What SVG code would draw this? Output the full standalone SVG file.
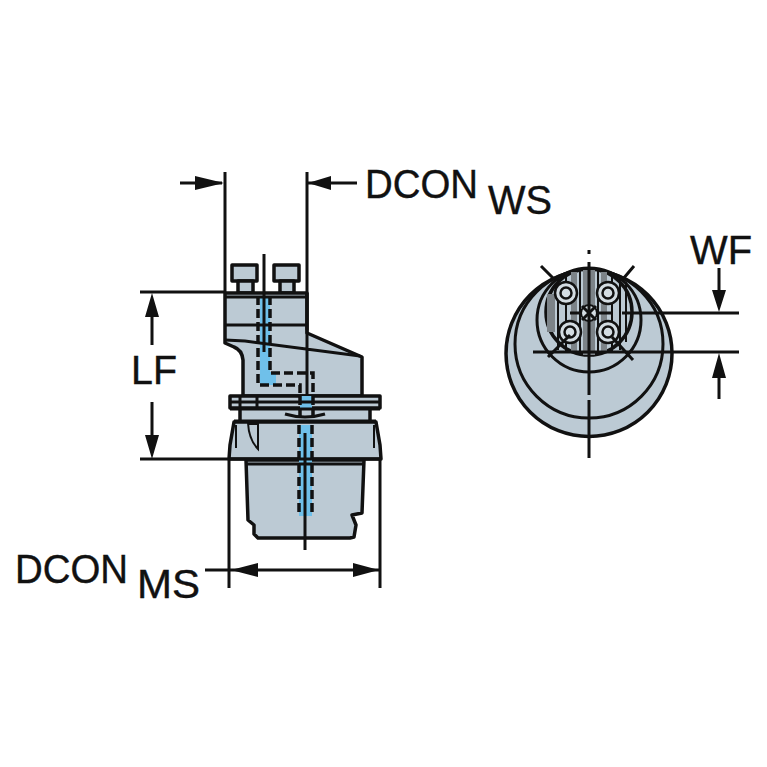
<svg xmlns="http://www.w3.org/2000/svg" width="767" height="767" viewBox="0 0 767 767">
<style>
.f{fill:#bccad4;stroke:#111;stroke-width:3.500;stroke-linejoin:round}
.l{fill:none;stroke:#111;stroke-width:3}
.t{fill:none;stroke:#111;stroke-width:2}
.d{fill:none;stroke:#111;stroke-width:3.500;stroke-dasharray:9 4}
.h{fill:#111;stroke:none}
.b{fill:#6fc0ea;stroke:none}
text{font-family:"Liberation Sans",Arial,sans-serif;fill:#111;font-size:41px;stroke:#111;stroke-width:.4}
</style>
<g id="side-view">
<path class="f" d="M232 265H257V281H232Z M274 265H299V281H274Z"/>
<path class="f" d="M238 281H253V293H238Z M280 281H294V293H280Z"/>
<path class="f" d="M225 293H307V333L362 357V396H243V360Q242 350 234 347L225 343Z"/>
<path class="f" d="M240 408H370V422H240Z"/>
<path class="f" d="M230 396H380V408H230Z"/>
<path class="f" d="M234 422H376L380 445L381 459H229L230 445Z"/>
<path class="f" d="M246 460H364L362 513L352 515L356 525L354 537L350 538H258L254 534L254 525L248 520Z" stroke-width="4"/>
<path class="b" d="M260 296H270V372H276V385H260Z"/>
<path class="b" d="M300 396H312V410H300Z M299 425H312V516H299Z"/>
<path class="l" d="M225 297H307 M225 325H307 M225 340L245 341 L360 356 M307 293V396 M240 396V408 M257 396V408 M230 402H380 M285 414Q305 420 325 414 M246 464H364 M229 459H381"/>
<path class="l" stroke-width="5" d="M307 292V330 M230 409H380 M234 421H376"/>
<path class="d" d="M258 296V385H300V396 M270 296V373H313V396 M300 396V416 M313 396V416 M299 425V516 M312 425V516"/>
<path class="t" d="M248 423Q249 440 258 449V424H248 M236 425V448 M374 425V448"/>
<path class="l" d="M264 254V352 M305 433V550"/>
</g>
<g id="end-view">
<circle class="f" cx="589" cy="353.500" r="83" stroke-width="4"/>
<circle class="l" cx="589" cy="344" r="74"/>
<circle class="l" cx="589" cy="320" r="52"/>
<circle cx="589" cy="312" r="43" fill="#bccad4" stroke="#111" stroke-width="3.500"/>
<path fill="#7c8388" d="M547 294H555V332H547Z M583 270H595V355H583Z M571 272H577V352H571Z M601 272H607V352H601Z"/>
<path class="t" d="M558 276V350 M566 272V352 M580 270V354 M598 270V354 M612 272V352 M620 276V350 M626 282V342"/>
<g fill="#d3dce2" stroke="#111" stroke-width="2.500">
<circle cx="566" cy="293" r="11"/><circle cx="608" cy="293" r="11"/><circle cx="570" cy="332" r="11"/><circle cx="608" cy="332" r="11"/>
<circle cx="566" cy="293" r="5.500"/><circle cx="608" cy="293" r="5.500"/><circle cx="570" cy="332" r="5.500"/><circle cx="608" cy="332" r="5.500"/>
</g>
<circle cx="589" cy="313" r="8" fill="#d3dce2" stroke="#111" stroke-width="2"/>
<path class="l" d="M582 306L596 320 M596 306L582 320 M570 313H582 M596 313H612"/>
<path class="l" d="M589 250V254 M589 262V458 M541 266L553 278 M634 266L623 279 M548 357L570 335 M633 360L612 337"/>
<path fill="#bccad4" d="M587 395H591V400H587Z"/>
</g>
<g id="dimensions">
<path class="l" d="M225 172V292 M307 172V292 M180 183H222 M308 183H357 M140 292H225 M140 459H229 M152 317V345 M152 402V435 M229 460V588 M380 460V588 M205 570H380 M622 313H739 M533 352H739 M719 268V290 M719 378V399"/>
<path class="h" d="M224 183L195 176V190Z M308 183L331 176V190Z M152 293L145 317H159Z M152 459L145 435H159Z M231 570L258 563V577Z M379 570L353 563V577Z M719 312L712 290H726Z M719 353L712 378H726Z"/>
</g>
<g id="labels">
<text x="365" y="198" textLength="113" lengthAdjust="spacingAndGlyphs">DCON</text><text x="488" y="214" textLength="64" lengthAdjust="spacingAndGlyphs">WS</text>
<text x="131" y="384" textLength="46" lengthAdjust="spacingAndGlyphs">LF</text>
<text x="15" y="583" textLength="113" lengthAdjust="spacingAndGlyphs">DCON</text><text x="137" y="598" textLength="63" lengthAdjust="spacingAndGlyphs">MS</text>
<text x="690" y="264" textLength="62" lengthAdjust="spacingAndGlyphs">WF</text>
</g>
</svg>
